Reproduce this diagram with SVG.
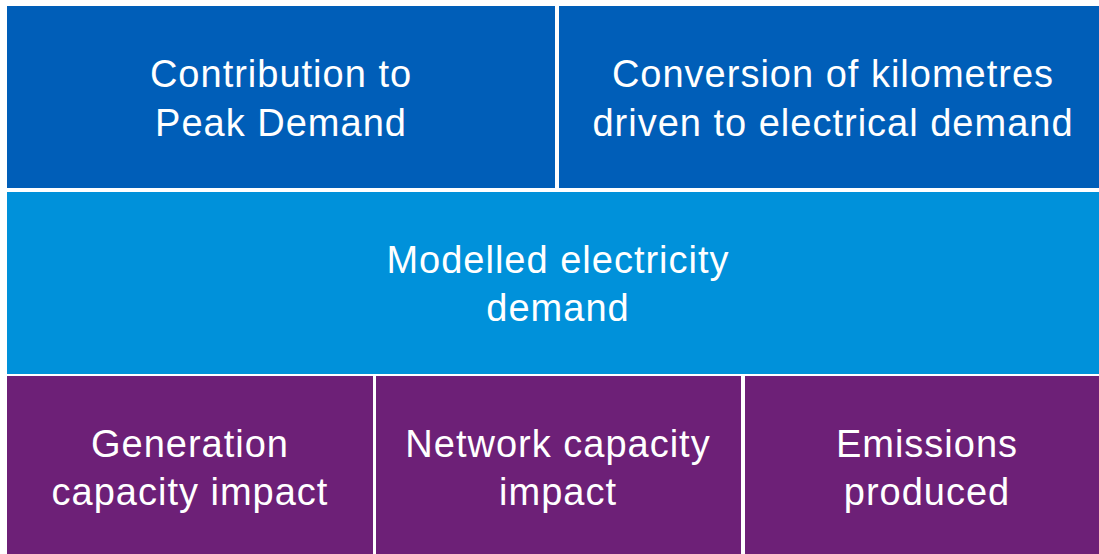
<svg xmlns="http://www.w3.org/2000/svg" width="1099" height="554" viewBox="0 0 1099 554">
  <style>
    .lbl { font-family: "Liberation Sans", Arial, sans-serif; font-size: 38px; fill: #ffffff; text-anchor: middle; letter-spacing: 1px; }
    .top { fill: #005EB8; }
    .mid { fill: #0091DA; }
    .bot { fill: #6D2077; }
  </style>
  <rect x="0" y="0" width="1099" height="554" fill="#ffffff"/>

  <!-- Top row -->
  <g id="peak-demand">
    <rect class="top" x="7" y="6" width="548" height="182"/>
    <text class="lbl" x="281" y="87">Contribution to</text>
    <text class="lbl" x="281" y="136">Peak Demand</text>
  </g>
  <g id="km-conversion">
    <rect class="top" x="559" y="6" width="550" height="182"/>
    <text class="lbl" x="833" y="87">Conversion of kilometres</text>
    <text class="lbl" x="833" y="136">driven to electrical demand</text>
  </g>

  <!-- Middle row -->
  <g id="modelled-demand">
    <rect class="mid" x="7" y="192" width="1102" height="182"/>
    <text class="lbl" x="558" y="273">Modelled electricity</text>
    <text class="lbl" x="558" y="321">demand</text>
  </g>

  <!-- Bottom row -->
  <g id="generation-impact">
    <rect class="bot" x="7" y="376" width="366" height="178"/>
    <text class="lbl" x="190" y="457">Generation</text>
    <text class="lbl" x="190" y="505">capacity impact</text>
  </g>
  <g id="network-impact">
    <rect class="bot" x="376" y="376" width="365" height="178"/>
    <text class="lbl" x="558" y="457">Network capacity</text>
    <text class="lbl" x="558" y="505">impact</text>
  </g>
  <g id="emissions">
    <rect class="bot" x="745" y="376" width="365" height="178"/>
    <text class="lbl" x="927" y="457">Emissions</text>
    <text class="lbl" x="927" y="505">produced</text>
  </g>

  <g id="connectors"></g>
</svg>
